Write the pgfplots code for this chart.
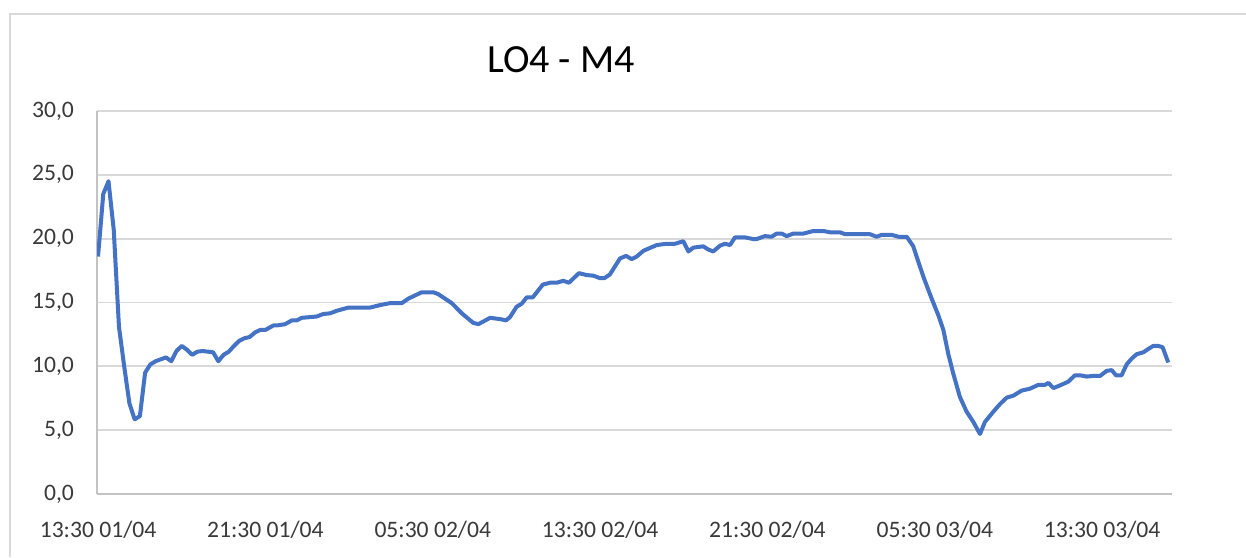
\documentclass[border=0pt]{standalone}
\usepackage{pgfplots}
\pgfplotsset{compat=1.18}
\usepackage{fontspec}
\setmainfont{Carlito}
\definecolor{serie}{HTML}{4472C4}
\definecolor{gridc}{HTML}{D9D9D9}
\definecolor{txt}{HTML}{3A3A3A}
\begin{document}
\begin{tikzpicture}
\useasboundingbox (0,0) rectangle (623pt,278.5pt);
\fill[white] (0,0) rectangle (623pt,278.5pt);
\draw[gridc, line width=0.75pt] (5pt,0) -- (5pt,271.5pt) -- (623pt,271.5pt);
\node[font=\fontsize{20}{24}\selectfont, text=black] at (280.5pt,248.5pt) {LO4 - M4};
\begin{axis}[
  at={(48.5pt,31.5pt)}, anchor=south west,
  scale only axis, width=537.5pt, height=191.5pt,
  xmin=-0.05, xmax=51.34, ymin=0, ymax=30,
  axis x line*=bottom, axis y line*=left,
  axis line style={draw=gridc!90!black, line width=1pt, -},
  ymajorgrids, grid style={draw=gridc, line width=0.9pt},
  major tick length=0pt,
  ytick={0,5,10,15,20,25,30},
  xtick={0,8,16,24,32,40,48},
  xticklabels={13:30 01/04,21:30 01/04,05:30 02/04,13:30 02/04,21:30 02/04,05:30 03/04,13:30 03/04},
  /pgf/number format/.cd, fixed, fixed zerofill, precision=1, use comma, assume math mode=true,
  /pgfplots/.cd,
  ticklabel style={font=\fontsize{11.8}{13}\selectfont, text=txt},
  yticklabel shift=8pt,
  xticklabel shift=10pt,
]
\addplot[serie, line width=2pt, line join=round, no marks] table {
x y
0 18.6
0.25 23.5
0.5 24.5
0.75 20.7
1.0 13.1
1.25 10.0
1.5 7.1
1.75 5.85
2.0 6.1
2.25 9.5
2.5 10.15
2.75 10.4
3.0 10.55
3.25 10.7
3.5 10.4
3.75 11.2
4.0 11.6
4.25 11.3
4.5 10.9
4.75 11.15
5.0 11.2
5.5 11.1
5.75 10.4
6.0 10.9
6.25 11.15
6.5 11.6
6.75 12.0
7.0 12.2
7.25 12.3
7.5 12.65
7.75 12.85
8.0 12.85
8.38 13.2
8.54 13.2
8.94 13.3
9.26 13.6
9.5 13.6
9.74 13.8
10.45 13.9
10.77 14.1
11.09 14.15
11.41 14.35
11.96 14.6
13.0 14.6
13.48 14.8
13.96 14.95
14.52 14.95
14.83 15.3
15.47 15.8
16.03 15.8
16.27 15.65
16.91 14.95
17.39 14.15
17.94 13.4
18.18 13.3
18.74 13.8
19.22 13.7
19.5 13.6
19.69 13.85
20.01 14.67
20.25 14.9
20.49 15.4
20.78 15.4
21.26 16.4
21.61 16.55
21.93 16.55
22.24 16.7
22.51 16.55
22.99 17.3
23.36 17.15
23.68 17.1
24.0 16.9
24.2 16.9
24.47 17.2
24.95 18.45
25.24 18.65
25.51 18.4
25.75 18.6
26.07 19.05
26.35 19.25
26.71 19.5
27.18 19.6
27.58 19.6
27.98 19.8
28.22 19.0
28.46 19.3
28.93 19.4
29.17 19.15
29.41 19.0
29.73 19.45
29.97 19.6
30.21 19.5
30.45 20.1
30.93 20.1
31.32 19.97
31.49 19.97
31.88 20.2
32.2 20.15
32.44 20.4
32.68 20.4
32.92 20.2
33.24 20.4
33.72 20.4
34.19 20.6
34.67 20.6
35.0 20.5
35.47 20.5
35.71 20.35
36.9 20.35
37.22 20.15
37.46 20.3
37.94 20.3
38.26 20.15
38.66 20.15
38.97 19.4
39.21 18.2
39.48 16.9
39.85 15.3
40.17 14.0
40.41 12.85
40.64 11.0
40.88 9.45
41.2 7.6
41.52 6.45
41.84 5.65
42.16 4.7
42.4 5.65
42.8 6.45
43.12 7.05
43.44 7.55
43.75 7.7
44.15 8.1
44.55 8.25
44.95 8.55
45.27 8.55
45.43 8.7
45.67 8.3
45.98 8.5
46.38 8.8
46.7 9.3
46.94 9.3
47.26 9.2
47.58 9.25
47.9 9.25
48.22 9.65
48.46 9.7
48.66 9.3
48.93 9.3
49.17 10.15
49.41 10.6
49.65 10.95
49.97 11.1
50.2 11.35
50.44 11.6
50.68 11.6
50.89 11.5
51.16 10.3
};
\end{axis}
\end{tikzpicture}
\end{document}
